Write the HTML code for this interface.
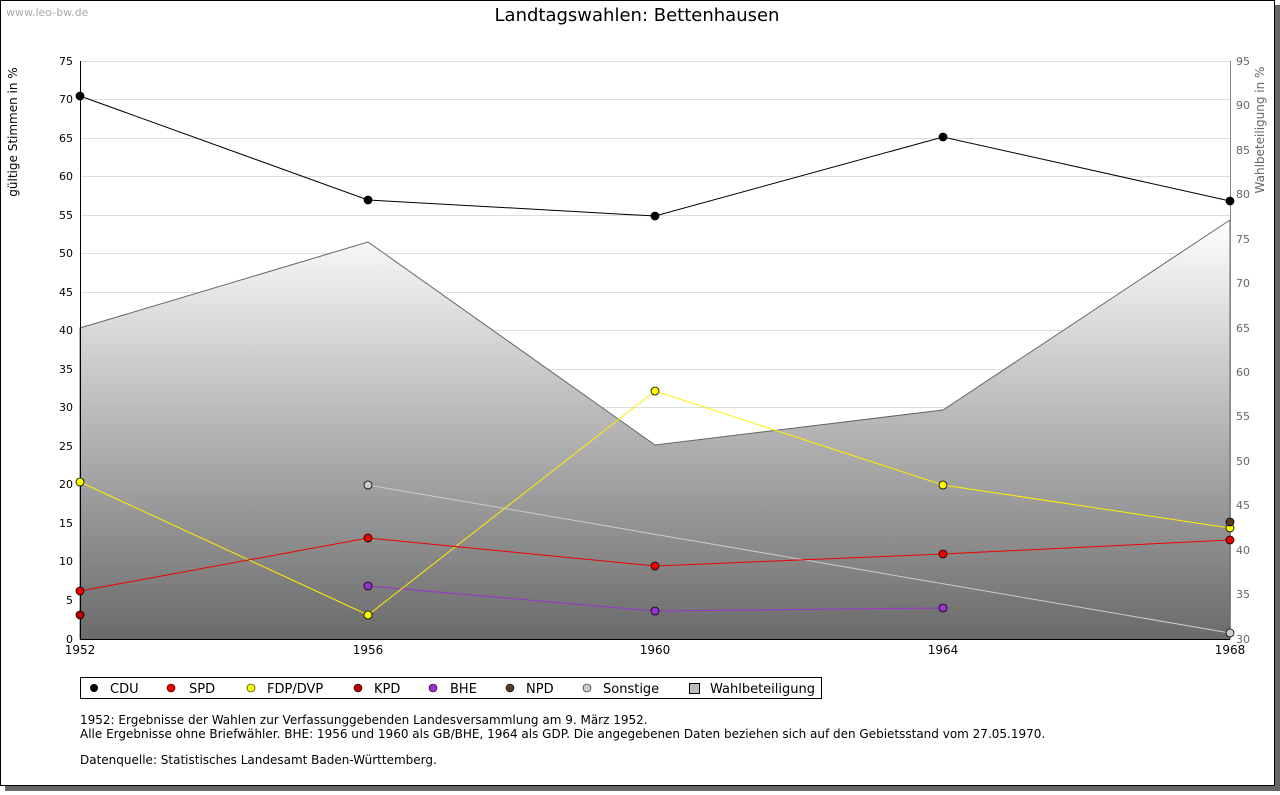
<!DOCTYPE html>
<html><head><meta charset="utf-8"><style>
body{margin:0;background:#fff;width:1280px;height:791px;overflow:hidden;font-family:"DejaVu Sans","Liberation Sans",sans-serif}
</style></head><body>
<svg width="1280" height="791" xmlns="http://www.w3.org/2000/svg" font-family="DejaVu Sans, Liberation Sans, sans-serif">
<defs>
<linearGradient id="g" x1="0" y1="220" x2="0" y2="639" gradientUnits="userSpaceOnUse">
<stop offset="0" stop-color="#ffffff"/><stop offset="1" stop-color="#6a6a6a"/></linearGradient>
</defs>
<rect x="5" y="5" width="1275" height="786" fill="#666"/>
<rect x="0.5" y="0.5" width="1274" height="785" fill="#fff" stroke="#000"/>
<text x="6" y="16" font-size="11" fill="#aaa">www.leo-bw.de</text>
<text x="637" y="21" font-size="18" text-anchor="middle">Landtagswahlen: Bettenhausen</text>
<g stroke="#ddd" stroke-width="1">
<line x1="80" x2="1230" y1="61.5" y2="61.5"/><line x1="80" x2="1230" y1="99.5" y2="99.5"/><line x1="80" x2="1230" y1="138.5" y2="138.5"/><line x1="80" x2="1230" y1="176.5" y2="176.5"/><line x1="80" x2="1230" y1="215.5" y2="215.5"/><line x1="80" x2="1230" y1="253.5" y2="253.5"/><line x1="80" x2="1230" y1="292.5" y2="292.5"/><line x1="80" x2="1230" y1="330.5" y2="330.5"/><line x1="80" x2="1230" y1="369.5" y2="369.5"/><line x1="80" x2="1230" y1="407.5" y2="407.5"/><line x1="80" x2="1230" y1="446.5" y2="446.5"/><line x1="80" x2="1230" y1="484.5" y2="484.5"/><line x1="80" x2="1230" y1="523.5" y2="523.5"/><line x1="80" x2="1230" y1="561.5" y2="561.5"/><line x1="80" x2="1230" y1="600.5" y2="600.5"/>
</g>
<polygon points="80,328 368,242 655,445 943,410 1230,220 1230,639 80,639" fill="url(#g)" stroke="#666" stroke-width="1"/>
<line x1="80.5" y1="61" x2="80.5" y2="639" stroke="#000"/>
<line x1="1230.5" y1="61" x2="1230.5" y2="639" stroke="#888"/>
<line x1="80" y1="639.5" x2="1230" y2="639.5" stroke="#000"/>
<g font-size="11" text-anchor="end" fill="#000">
<text x="73" y="65">75</text><text x="73" y="103">70</text><text x="73" y="142">65</text><text x="73" y="180">60</text><text x="73" y="219">55</text><text x="73" y="257">50</text><text x="73" y="296">45</text><text x="73" y="334">40</text><text x="73" y="373">35</text><text x="73" y="411">30</text><text x="73" y="450">25</text><text x="73" y="488">20</text><text x="73" y="527">15</text><text x="73" y="565">10</text><text x="73" y="604">5</text><text x="73" y="643">0</text>
</g>
<g font-size="11" fill="#666">
<text x="1236" y="65">95</text><text x="1236" y="109">90</text><text x="1236" y="154">85</text><text x="1236" y="198">80</text><text x="1236" y="243">75</text><text x="1236" y="287">70</text><text x="1236" y="332">65</text><text x="1236" y="376">60</text><text x="1236" y="420">55</text><text x="1236" y="465">50</text><text x="1236" y="509">45</text><text x="1236" y="554">40</text><text x="1236" y="598">35</text><text x="1236" y="643">30</text>
</g>
<g font-size="12" text-anchor="middle">
<text x="80" y="654">1952</text><text x="368" y="654">1956</text><text x="655" y="654">1960</text><text x="943" y="654">1964</text><text x="1230" y="654">1968</text>
</g>
<text transform="translate(17,132) rotate(-90)" font-size="12" text-anchor="middle">gültige Stimmen in %</text>
<text transform="translate(1264,130) rotate(-90)" font-size="12" text-anchor="middle" fill="#666">Wahlbeteiligung in %</text>
<g fill="none" stroke-width="1">
<polyline points="368,485 1230,633" stroke="#ccc"/>
<polyline points="368,586 655,611 943,608" stroke="#9932cc"/>
<polyline points="80,482 368,615 655,391 943,485 1230,528" stroke="#ffee00"/>
<polyline points="80,591 368,538 655,566 943,554 1230,540" stroke="#e00"/>
<polyline points="80,96 368,200 655,216 943,137 1230,201" stroke="#000"/>
</g>
<g stroke="#000" stroke-width="0.8">
<circle cx="368" cy="485" r="4" fill="#ccc"/><circle cx="1230" cy="633" r="4" fill="#ccc"/>
<circle cx="368" cy="586" r="4" fill="#9932cc"/><circle cx="655" cy="611" r="4" fill="#9932cc"/><circle cx="943" cy="608" r="4" fill="#9932cc"/>
<circle cx="80" cy="482" r="4" fill="#ff0"/><circle cx="368" cy="615" r="4" fill="#ff0"/><circle cx="655" cy="391" r="4" fill="#ff0"/><circle cx="943" cy="485" r="4" fill="#ff0"/><circle cx="1230" cy="528" r="4" fill="#ff0"/>
<circle cx="80" cy="591" r="4" fill="#e00"/><circle cx="368" cy="538" r="4" fill="#e00"/><circle cx="655" cy="566" r="4" fill="#e00"/><circle cx="943" cy="554" r="4" fill="#e00"/><circle cx="1230" cy="540" r="4" fill="#e00"/>
<circle cx="80" cy="615" r="4" fill="#b00"/>
<circle cx="1230" cy="522" r="4" fill="#5c3a1e"/>
<circle cx="80" cy="96" r="4" fill="#000"/><circle cx="368" cy="200" r="4" fill="#000"/><circle cx="655" cy="216" r="4" fill="#000"/><circle cx="943" cy="137" r="4" fill="#000"/><circle cx="1230" cy="201" r="4" fill="#000"/>
</g>
<rect x="80.5" y="677.5" width="741" height="21" fill="#fff" stroke="#000"/>
<g font-size="13">
<circle cx="94" cy="688" r="4" fill="#000"/><text x="110" y="693">CDU</text>
<circle cx="171" cy="688" r="4" fill="#e00" stroke="#000" stroke-width=".6"/><text x="189" y="693">SPD</text>
<circle cx="251" cy="688" r="4" fill="#ff0" stroke="#000" stroke-width=".6"/><text x="267" y="693">FDP/DVP</text>
<circle cx="358" cy="688" r="4" fill="#b00" stroke="#000" stroke-width=".6"/><text x="374" y="693">KPD</text>
<circle cx="433" cy="688" r="4" fill="#9932cc" stroke="#000" stroke-width=".6"/><text x="450" y="693">BHE</text>
<circle cx="510" cy="688" r="4" fill="#5c3a1e" stroke="#000" stroke-width=".6"/><text x="526" y="693">NPD</text>
<circle cx="587" cy="688" r="4" fill="#ccc" stroke="#000" stroke-width=".6"/><text x="603" y="693">Sonstige</text>
<rect x="689.5" y="683.5" width="10" height="10" fill="#bbb" stroke="#000"/><text x="710" y="693">Wahlbeteiligung</text>
</g>
<g font-size="12">
<text x="80" y="724">1952: Ergebnisse der Wahlen zur Verfassunggebenden Landesversammlung am 9. März 1952.</text>
<text x="80" y="738">Alle Ergebnisse ohne Briefwähler. BHE: 1956 und 1960 als GB/BHE, 1964 als GDP. Die angegebenen Daten beziehen sich auf den Gebietsstand vom 27.05.1970.</text>
<text x="80" y="764">Datenquelle: Statistisches Landesamt Baden-Württemberg.</text>
</g>
</svg>
</body></html>
